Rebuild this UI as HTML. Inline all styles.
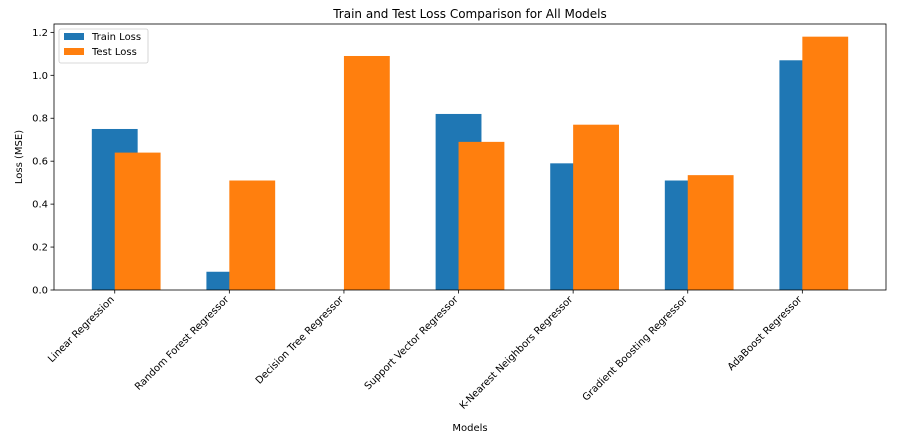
<!DOCTYPE html>
<html><head><meta charset="utf-8"><style>
body{margin:0;background:#fff;}
svg{display:block;font-family:"DejaVu Sans","Liberation Sans",sans-serif;}
</style></head><body>
<svg id="chart" width="897" height="444" viewBox="0 0 897 444" xmlns="http://www.w3.org/2000/svg"></svg>
<script>
const categories=["Linear Regression","Random Forest Regressor","Decision Tree Regressor","Support Vector Regressor","K-Nearest Neighbors Regressor","Gradient Boosting Regressor","AdaBoost Regressor"];
const trainLoss=[0.75,0.085,0.0,0.82,0.59,0.51,1.07];
const testLoss=[0.64,0.51,1.09,0.69,0.77,0.535,1.18];
const yTicks=[0.0,0.2,0.4,0.6,0.8,1.0,1.2];
const yTickLabels=["0.0","0.2","0.4","0.6","0.8","1.0","1.2"];

const svg=document.getElementById('chart');
const NS="http://www.w3.org/2000/svg";
const L=54,R=886,T=24,B=290;
const xMin=-0.53,xMax=6.73,yMin=0,yMax=1.239;
const X=v=>L+(v-xMin)/(xMax-xMin)*(R-L);
const Y=v=>B-(v-yMin)/(yMax-yMin)*(B-T);
function el(tag,attrs,parent){const e=document.createElementNS(NS,tag);for(const k in attrs)e.setAttribute(k,attrs[k]);(parent||svg).appendChild(e);return e;}

const barsG=el('g',{});


categories.forEach((c,i)=>{
  const w=X(0.4)-X(0);
  const r1=el('rect',{x:X(i-0.2),y:Y(trainLoss[i]),width:w,height:Y(0)-Y(trainLoss[i]),fill:'#1f77b4'},barsG);
  
  
  const r2=el('rect',{x:X(i),y:Y(testLoss[i]),width:w,height:Y(0)-Y(testLoss[i]),fill:'#ff7f0e'},barsG);
  
  
});
const frame=el('rect',{x:L,y:T,width:R-L,height:B-T,fill:'none',stroke:'#000','stroke-width':0.8});



yTicks.forEach((t,i)=>{
  const y=Y(t);
  el('line',{x1:L-3.5,x2:L,y1:y,y2:y,stroke:'#000','stroke-width':0.8});
  const tx=el('text',{x:L-6,y:y+3.5,'font-size':10,'text-anchor':'end'});
  tx.textContent=yTickLabels[i];
  
  
});
categories.forEach((c,i)=>{
  const x=X(i);
  el('line',{x1:x,x2:x,y1:B,y2:B+3.5,stroke:'#000','stroke-width':0.8});
  const tx=el('text',{x:x,y:B+10,'font-size':10,'text-anchor':'end',transform:`rotate(-45 ${x} ${B+10})`});
  tx.textContent=c;
  
  
});
const title=el('text',{x:(L+R)/2,y:18,'font-size':12,'text-anchor':'middle'});
title.textContent="Train and Test Loss Comparison for All Models";


const xt=el('text',{x:(L+R)/2,y:431,'font-size':10,'text-anchor':'middle'});
xt.textContent="Models";


const yt=el('text',{x:22,y:(T+B)/2,'font-size':10,'text-anchor':'middle',transform:`rotate(-90 22 ${(T+B)/2})`});
yt.textContent="Loss (MSE)";



const lg=el('g',{});


el('rect',{x:59,y:29,width:89,height:34,fill:'#fff',stroke:'#ccc','stroke-width':0.8,rx:2},lg);
[["Train Loss",'#1f77b4'],["Test Loss",'#ff7f0e']].forEach((d,i)=>{
  const sw=el('rect',{x:64,y:33+i*15,width:20,height:7,fill:d[1]},lg);
  
  
  const t=el('text',{x:92,y:40+i*15,'font-size':10},lg);
  t.textContent=d[0];
  
  
});
</script>
</body></html>
